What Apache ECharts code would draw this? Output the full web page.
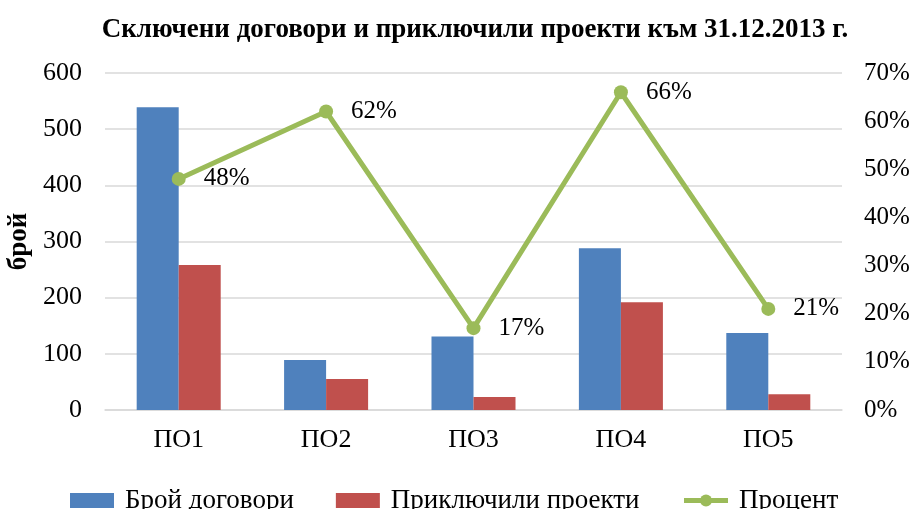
<!DOCTYPE html>
<html><head><meta charset="utf-8">
<script src="https://cdn.jsdelivr.net/npm/echarts@6/dist/echarts.min.js"></script>
<style>html,body{margin:0;padding:0;background:#fff}#c{width:913px;height:509px}</style>
</head><body><div id="c"></div>
<script>
const categories = ['ПО1','ПО2','ПО3','ПО4','ПО5'];
const contracts = [539, 89, 131, 288, 137];
const completed = [258, 55, 23, 192, 28];
const percent = [48, 62, 17, 66, 21];
const leftTicks = [0, 100, 200, 300, 400, 500, 600];
const rightTicks = [0, 10, 20, 30, 40, 50, 60, 70];

const F = '"Liberation Serif","Times New Roman",serif';
const chart = echarts.init(document.getElementById('c'));
chart.setOption({
  animation: false,
  textStyle: { fontFamily: F },
  title: {
    text: 'Сключени договори и приключили проекти към 31.12.2013 г.',
    left: 470, top: 12, textAlign: 'center',
    textStyle: { fontFamily: F, fontWeight: 'bold', fontSize: 27, color: '#000' }
  },
  legend: {
    top: 482, left: 65, itemGap: 42, itemWidth: 44, itemHeight: 15,
    textStyle: { fontFamily: F, fontSize: 27, color: '#000', padding: [0,0,0,6] },
    data: [
      { name: 'Брой договори', icon: 'rect' },
      { name: 'Приключили проекти', icon: 'rect' },
      { name: 'Процент', itemStyle: { color: '#9BBB59' }, lineStyle: { width: 5, color: '#9BBB59' } }
    ]
  },
  grid: { left: 105, right: 71, top: 73, bottom: 99, outerBoundsMode: 'none', containLabel: false },
  xAxis: {
    type: 'category', data: categories,
    axisLine: { lineStyle: { color: '#d9d9d9', width: 1.5 } },
    axisTick: { show: false },
    axisLabel: { fontFamily: F, fontSize: 26, color: '#000', margin: 17 }
  },
  yAxis: [
    {
      type: 'value', min: 0, max: 600, interval: 100,
      name: 'брой', nameLocation: 'middle', nameGap: 70, nameRotate: 90,
      nameTextStyle: { fontFamily: F, fontWeight: 'bold', fontSize: 27, color: '#000' },
      axisLine: { show: false }, axisTick: { show: false },
      axisLabel: { fontFamily: F, fontSize: 26, color: '#000', margin: 23 },
      splitLine: { lineStyle: { color: '#d9d9d9', width: 1.5 } }
    },
    {
      type: 'value', min: 0, max: 70, interval: 10,
      axisLine: { show: false }, axisTick: { show: false },
      axisLabel: { fontFamily: F, fontSize: 25, color: '#000', margin: 22, formatter: '{value}%' },
      splitLine: { show: false }
    }
  ],
  series: [
    { name: 'Брой договори', type: 'bar', data: contracts, barGap: '0%', barCategoryGap: '43%',
      itemStyle: { color: '#4F81BD' } },
    { name: 'Приключили проекти', type: 'bar', data: completed,
      itemStyle: { color: '#C0504D' } },
    { name: 'Процент', type: 'line', yAxisIndex: 1, data: percent,
      symbol: 'circle', symbolSize: 14,
      lineStyle: { color: '#9BBB59', width: 5 },
      itemStyle: { color: '#9BBB59' },
      label: { show: true, position: 'right', distance: 18, formatter: '{c}%',
        fontFamily: F, fontSize: 25, color: '#000' } }
  ]
});
</script></body></html>
